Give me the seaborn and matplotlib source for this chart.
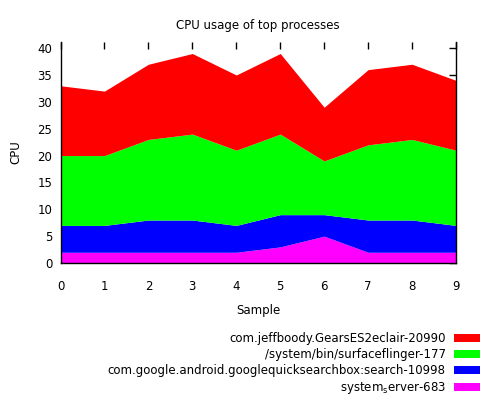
import numpy as np
import matplotlib
matplotlib.use("Agg")
import matplotlib.pyplot as plt
from matplotlib.patches import Rectangle
import seaborn as sns

# samples and per-process CPU usage (stacked bottom to top)
samples = [0, 1, 2, 3, 4, 5, 6, 7, 8, 9]
system_server = [2, 2, 2, 2, 2, 3, 5, 2, 2, 2]
quicksearchbox = [5, 5, 6, 6, 5, 6, 4, 6, 6, 5]
surfaceflinger = [13, 13, 15, 16, 14, 15, 10, 14, 15, 14]
gears = [13, 12, 14, 15, 14, 15, 10, 14, 14, 13]

labels = ["com.jeffboody.GearsES2eclair-20990",
          "/system/bin/surfaceflinger-177",
          "com.google.android.googlequicksearchbox:search-10998",
          "system$_\\mathregular{s}$erver-683"]
colors = ["#ff0000", "#00ff00", "#0000ff", "#ff00ff"]

sns.set_style("white")
plt.rcParams["font.family"] = ["DejaVu Sans"]
plt.rcParams["font.size"] = 8.5
plt.rcParams["text.color"] = "black"
plt.rcParams["axes.labelcolor"] = "black"
plt.rcParams["xtick.color"] = "black"
plt.rcParams["ytick.color"] = "black"

fig = plt.figure(figsize=(4.8, 4.0), dpi=100)
ax = fig.add_axes([60.5 / 480, 1 - 263 / 400, (456 - 60.5) / 480, (263 - 41.7) / 400])

# stack from the bottom: system_server, quicksearchbox, surfaceflinger, gears
layers = [system_server, quicksearchbox, surfaceflinger, gears]
ax.stackplot(samples, *layers, colors=colors[::-1], linewidth=0)

ax.set_xlim(0, 9)
ax.set_ylim(0, 41.2)
ax.set_xticks(samples)
ax.set_yticks(np.arange(0, 41, 5))
ax.tick_params(direction="in", length=5, width=1,
               top=True, right=True, labelsize=8.5)
ax.tick_params(axis="x", pad=12.5)
ax.tick_params(axis="y", pad=6)
for side in ["left", "bottom", "right"]:
    ax.spines[side].set_visible(True)
    ax.spines[side].set_color("black")
    ax.spines[side].set_linewidth(1)
ax.spines["top"].set_visible(False)

ax.set_title("CPU usage of top processes", fontsize=8.5, pad=9)
ax.set_xlabel("Sample", fontsize=8.5, labelpad=8)
ax.set_ylabel("CPU", fontsize=8.5, labelpad=11)

handles = [Rectangle((0, 0), 1, 1, facecolor=c, edgecolor="none") for c in colors]
fig.legend(handles, labels, loc="upper right", bbox_to_anchor=(1.0, 1 - 332 / 400),
           frameon=False, markerfirst=False, fontsize=8.5,
           handlelength=2.2, handleheight=0.68, labelspacing=0.26,
           handletextpad=0.7, borderpad=0, borderaxespad=0)

fig.savefig("out.png", dpi=100)
